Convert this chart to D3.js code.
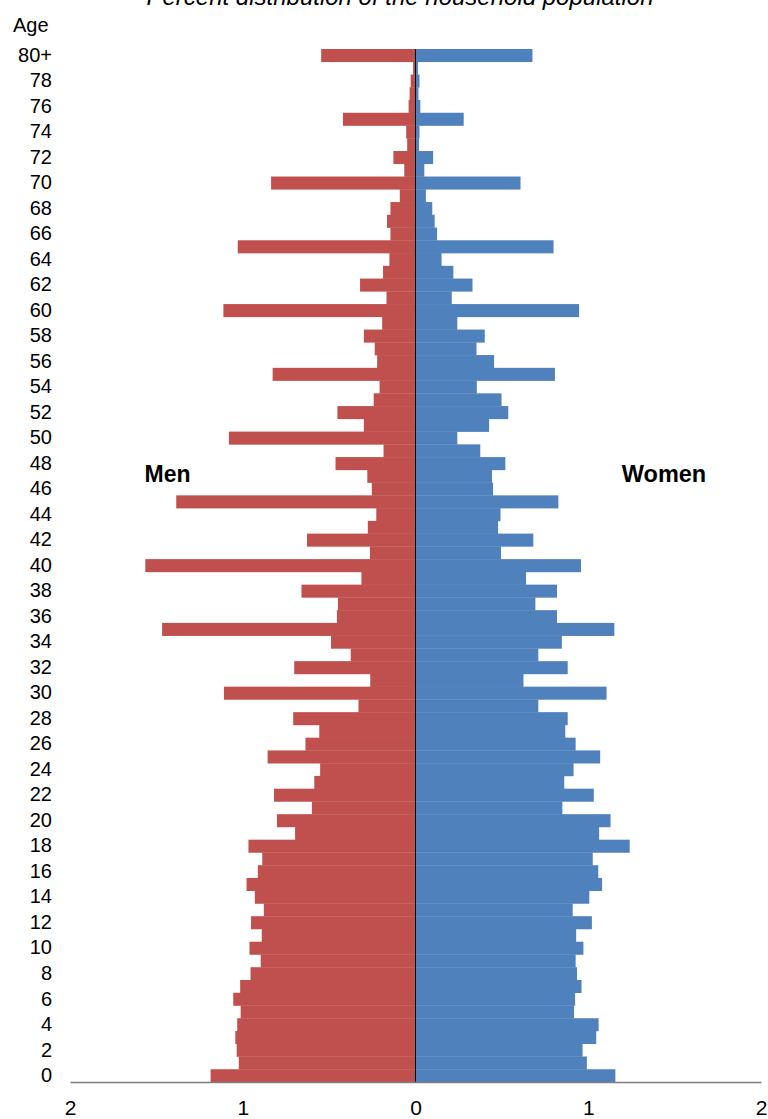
<!DOCTYPE html>
<html>
<head>
<meta charset="utf-8">
<script src="https://cdn.jsdelivr.net/npm/d3@7"></script>
<style>
  body { margin: 0; background: #fff; }
  text { font-family: "Liberation Sans", Arial, sans-serif; fill: #000; }
</style>
</head>
<body>
<svg id="chart" width="768" height="1119"></svg>
<script>
// ages 0..79 plus 80+
var ages = d3.range(0, 80).map(String).concat(["80+"]);
var men = [1.186, 1.023, 1.035, 1.043, 1.032, 1.012, 1.055, 1.015, 0.955, 0.896,
  0.961, 0.89, 0.952, 0.878, 0.93, 0.978, 0.913, 0.887, 0.967, 0.697,
  0.802, 0.6, 0.819, 0.586, 0.552, 0.856, 0.637, 0.557, 0.708, 0.33,
  1.109, 0.262, 0.702, 0.375, 0.489, 1.467, 0.455, 0.449, 0.66, 0.313,
  1.564, 0.264, 0.628, 0.276, 0.227, 1.385, 0.253, 0.279, 0.463, 0.185,
  1.08, 0.299, 0.452, 0.242, 0.208, 0.827, 0.222, 0.236, 0.299, 0.193,
  1.112, 0.168, 0.321, 0.188, 0.151, 1.029, 0.145, 0.165, 0.145, 0.091,
  0.836, 0.065, 0.128, 0.048, 0.054, 0.42, 0.04, 0.034, 0.028, 0.014,
  0.546];
var women = [1.157, 0.992, 0.967, 1.046, 1.06, 0.918, 0.924, 0.961, 0.935, 0.927,
  0.972, 0.93, 1.021, 0.91, 1.006, 1.08, 1.058, 1.026, 1.24, 1.063,
  1.129, 0.85, 1.032, 0.861, 0.915, 1.069, 0.927, 0.867, 0.881, 0.711,
  1.106, 0.625, 0.881, 0.711, 0.847, 1.151, 0.819, 0.694, 0.819, 0.64,
  0.958, 0.495, 0.682, 0.478, 0.492, 0.827, 0.449, 0.443, 0.52, 0.375,
  0.242, 0.426, 0.537, 0.498, 0.355, 0.807, 0.455, 0.353, 0.401, 0.242,
  0.947, 0.21, 0.33, 0.219, 0.151, 0.799, 0.125, 0.111, 0.097, 0.06,
  0.608, 0.051, 0.102, 0.02, 0.023, 0.279, 0.028, 0.017, 0.023, 0.014,
  0.677];
var ageTicks = ages.filter(function (d, i) { return i % 2 === 0; });
var xTicks = [-2, -1, 0, 1, 2];

var svg = d3.select('#chart');
var x = d3.scaleLinear().domain([-2, 2]).range([70, 761]);
var y = d3.scaleBand().domain(ages).range([1082, 49]).padding(0);

var rows = ages.map(function (a, i) { return { age: a, m: men[i], w: women[i] }; });

svg.selectAll('rect.men')
  .data(rows)
  .enter().append('rect')
  .attr('class', 'men')
  .attr('x', d => x(-d.m))
  .attr('y', d => y(d.age))
  .attr('width', d => x(0) - x(-d.m))
  .attr('height', y.bandwidth() + 0.3)
  .attr('fill', '#C0504D');

svg.selectAll('rect.women')
  .data(rows)
  .enter().append('rect')
  .attr('class', 'women')
  .attr('x', x(0))
  .attr('y', d => y(d.age))
  .attr('width', d => x(d.w) - x(0))
  .attr('height', y.bandwidth() + 0.3)
  .attr('fill', '#4F81BD');

// centre line
svg.append('line')
  .attr('x1', x(0)).attr('x2', x(0))
  .attr('y1', y('80+')).attr('y2', 1082)
  .style('stroke', '#000')
  .style('stroke-width', 1);

// x axis
var xAxis = d3.axisBottom(x).tickValues(xTicks).tickSize(0).tickPadding(18)
  .tickFormat(d => Math.abs(d));
var gx = svg.append('g').attr('transform', 'translate(0,1082)').call(xAxis);
gx.select('.domain').style('stroke', '#7f7f7f').style('stroke-width', 1.5);
gx.selectAll('text').style('font-size', '21px').style('font-family', '"Liberation Sans", Arial, sans-serif');

// age labels
var yAxis = d3.axisLeft(y).tickValues(ageTicks).tickSize(0).tickPadding(0);
var gy = svg.append('g').attr('transform', 'translate(52,0)').call(yAxis);
gy.select('.domain').remove();
gy.selectAll('text').style('font-size', '20px').style('font-family', '"Liberation Sans", Arial, sans-serif');

svg.append('text')
  .attr('x', 13).attr('y', 32)
  .style('font-size', '20px')
  .text('Age');

svg.append('text')
  .attr('x', 400).attr('y', 5)
  .attr('text-anchor', 'middle')
  .style('font-size', '24px')
  .style('font-style', 'italic')
  .text('Percent distribution of the household population');

svg.append('text')
  .attr('x', 167.5).attr('y', 482)
  .attr('text-anchor', 'middle')
  .style('font-size', '23px')
  .style('font-weight', 'bold')
  .text('Men');

svg.append('text')
  .attr('x', 664).attr('y', 482)
  .attr('text-anchor', 'middle')
  .style('font-size', '23.5px')
  .style('font-weight', 'bold')
  .text('Women');
</script>
</body>
</html>
